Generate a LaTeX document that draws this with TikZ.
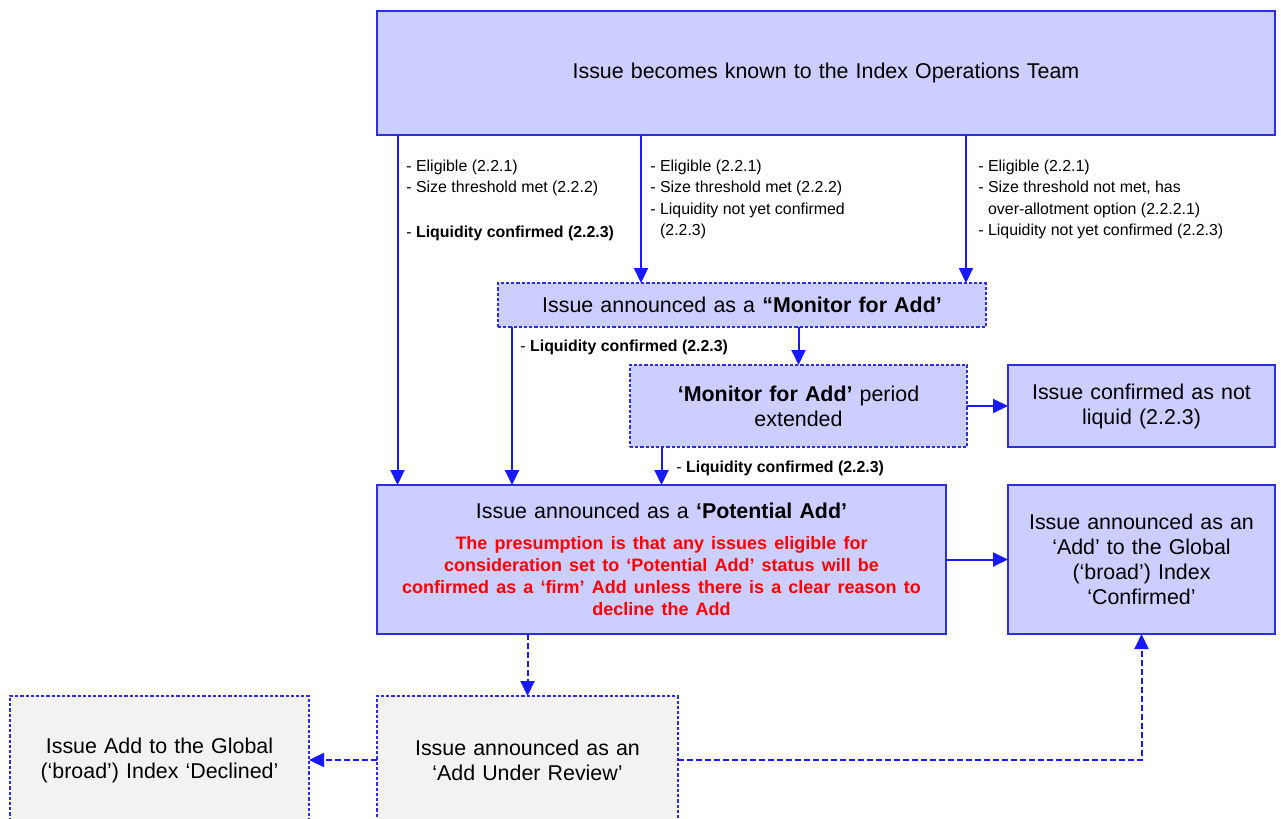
\documentclass[tikz,border=0pt]{standalone}
\usepackage{fontspec}
\setmainfont{Liberation Sans}
\usepackage{xcolor}
\usepackage{tikz}
\usetikzlibrary{arrows.meta, positioning, calc}
\definecolor{BoxFill}{RGB}{204,206,255}
\definecolor{GreyFill}{RGB}{242,242,242}
\definecolor{BoxLine}{RGB}{45,45,225}
\definecolor{FlowBlue}{RGB}{25,25,255}
\definecolor{NoteRed}{RGB}{255,0,0}
\newcommand\boxfont{\fontsize{10.7}{12.5}\selectfont}
\newcommand\lblfont{\fontsize{7.95}{10.75}\selectfont}
\newcommand\notefont{\fontsize{9}{11}\selectfont\bfseries}

\begin{document}
\begin{tikzpicture}[x=0.5pt,y=-0.5pt,>={Triangle[length=7.5pt,width=7pt]},
  box style/.style={
    draw=BoxLine,
    line width=0.9pt,
    fill=#1,
    align=center,
    inner xsep=0pt,
    inner ysep=2pt,
    outer sep=0pt,
    font=\boxfont,
  },
  dashed box/.style={
    line width=0.6pt,
    dash pattern=on 1.6pt off 1pt,
  },
  label style/.style={
    anchor=north west,
    align=left,
    inner sep=0pt,
    font=\lblfont,
  },
  flow/.style={->, draw=FlowBlue, line width=1pt},
  dashed flow/.style={flow, dash pattern=on 3pt off 1.5pt}
]
\path[use as bounding box, fill=white] (0,0) rectangle (1281,819);
\clip (0,0) rectangle (1281,819);

\node[box style=BoxFill, text width=449pt, minimum height=61.75pt] (team) at (826,73)
  {Issue becomes known to the Index Operations Team};

\node[box style=BoxFill, dashed box, text width=244pt, minimum height=22pt] (mfa) at (742,305)
  {Issue announced as a \textbf{“Monitor for Add’}};

\node[box style=BoxFill, dashed box, text width=168.5pt, minimum height=41pt] (ext) at (798.5,406)
  {\textbf{‘Monitor for Add’} period\\extended};

\node[box style=BoxFill, text width=133.5pt, minimum height=41pt, right=20.5pt of ext] (notliq)
  {Issue confirmed as not\\liquid (2.2.3)};

\node[box style=BoxFill, text width=284.5pt, minimum height=74.5pt] (pa) at (661.5,559.5)
  {Issue announced as a \textbf{‘Potential Add’}\par\vspace{4.5pt}%
   {\notefont\color{NoteRed}The presumption is that any issues eligible for\\
    consideration set to ‘Potential Add’ status will be\\
    confirmed as a ‘firm’ Add unless there is a clear reason to\\
    decline the Add\par}};

\node[box style=BoxFill, text width=133.5pt, minimum height=74.5pt, right=31pt of pa] (conf)
  {Issue announced as an\\‘Add’ to the Global\\(‘broad’) Index\\‘Confirmed’};

\node[box style=GreyFill, dashed box, text width=150.5pt, minimum height=64pt] (aur) at (527.5,760)
  {Issue announced as an\\‘Add Under Review’};

\node[box style=GreyFill, dashed box, text width=149.5pt, minimum height=64pt, left=34pt of aur] (dec)
  {Issue Add to the Global\\(‘broad’) Index ‘Declined’};

% criteria under the top box
\node[label style] (crit1) at (406,159.5)
  {- Eligible (2.2.1)\\- Size threshold met (2.2.2)\\[11.5pt]- \textbf{Liquidity confirmed (2.2.3)}};
\node[label style] (crit2) at (650,159.5)
  {- Eligible (2.2.1)\\- Size threshold met (2.2.2)\\- Liquidity not yet confirmed\\\phantom{- }(2.2.3)};
\node[label style] (crit3) at (978,159.5)
  {- Eligible (2.2.1)\\- Size threshold not met, has\\\phantom{- }over-allotment option (2.2.2.1)\\- Liquidity not yet confirmed (2.2.3)};
\node[label style, anchor=west] (liq1) at (520,347) {- \textbf{Liquidity confirmed (2.2.3)}};
\node[label style, anchor=west] (liq2) at (676,468) {- \textbf{Liquidity confirmed (2.2.3)}};

\draw[flow] ([xshift=10.25pt]team.south west) -- ([xshift=10.25pt]pa.north west);
\draw[flow] ([xshift=132pt]team.south west) -- ([xshift=71.5pt]mfa.north west);
\draw[flow] ([xshift=-154.5pt]team.south east) -- ([xshift=-10pt]mfa.north east);
\draw[flow] ([xshift=7pt]mfa.south west) -- ([xshift=67.5pt]pa.north west);
\draw[flow] (mfa.south -| ext.north) -- (ext.north);
\draw[flow] (ext.south -| pa.north) -- (pa.north);
\draw[flow] (ext) -- (notliq);
\draw[flow] (pa) -- (conf);

\draw[dashed flow] (pa.south -| aur.north) -- (aur.north);
\draw[dashed flow] (aur) -- (dec);
\draw[dashed flow] (aur.east) -| (conf.south);

\end{tikzpicture}
\end{document}
